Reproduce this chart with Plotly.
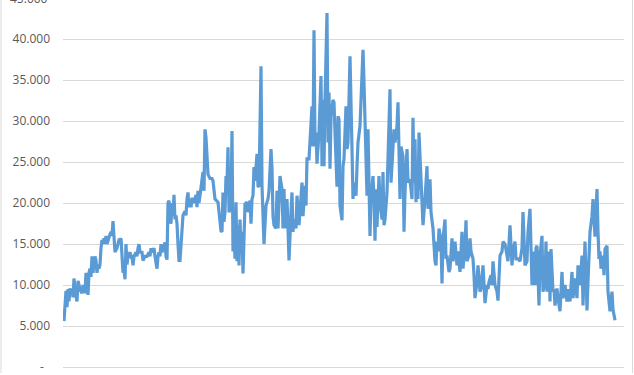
import plotly.graph_objects as go

# period index and values
periods = [0,1,2,3,4,5,6,7,8,9,10,11,12,13,14,15,16,18,19,21,22,24,25,26,27,28,29,31,32,33,34,35,36,37,38,39,40,41,42,43,44,45,46,47,48,49,50,51,52,53,55,56,57,58,59,60,61,62,63,64,66,67,68,69,70,72,73,74,75,76,78,79,81,83,85,86,87,88,90,91,92,93,94,95,96,97,98,100,101,102,103,104,105,106,107,108,109,110,111,112,113,114,115,116,117,118,119,121,122,123,124,125,126,127,128,129,130,131,132,133,134,135,136,137,138,139,140,141,142,143,144,146,148,149,151,154,155,157,158,159,160,161,162,163,164,165,167,168,169,170,171,172,173,174,175,176,177,178,179,181,183,184,186,187,188,189,190,191,193,194,195,197,198,199,200,202,204,205,207,208,209,210,212,213,214,216,218,219,220,221,223,224,225,227,228,229,230,232,233,235,237,238,239,241,242,243,245,246,248,249,250,251,252,253,255,257,258,259,260,261,263,264,265,266,267,269,270,271,273,274,275,276,278,279,280,282,283,284,286,288,289,290,292,293,294,296,297,299,300,301,303,304,306,307,309,310,311,312,313,315,316,318,319,320,321,323,324,326,327,329,330,331,333,334,335,336,337,339,340,341,343,344,346,348,349,350,351,352,353,354,355,357,358,359,361,363,364,366,367,369,371,372,373,374,375,377,378,379,381,382,383,385,386,388,389,391,393,394,396,398,399,401,402,403,405,406,407,409,410,411,413,414,416,417,419,420,421,423,424,425,427,428,429,431,433,434,436,438,439,441,443,444,446,448,449,451,452,454,456,458,459,461,463,464,466,467,468,469,471,472,473,475,476,478,479,481,482,483,485,486,487,489,490,491,493,494,496,498,499,501,503,504,506,508,509,511,513,514,516,518,519,521,523,524,526,528,529,531,533,534,535,536,537,539,540,541,543,544,546,548,549,551,552,553,554]
values = [5600,7500,9300,7300,9500,8000,9600,8800,9500,8500,10800,9400,8500,8000,10500,9800,9500,9000,10000,9000,11500,8800,11500,12000,11000,13500,11500,13500,13000,11500,12500,12000,12500,14500,15500,15000,15700,15000,16000,15000,15500,16000,16200,16500,16000,17800,16000,14000,14300,14500,15500,15500,15700,12500,11500,12000,10700,15000,12500,13500,14000,13500,13600,12400,13500,14000,13500,14500,15000,14000,14000,13000,13500,13500,14000,13500,14500,14000,14500,13500,12500,12000,13500,14000,13500,15000,14000,15000,15200,13500,13100,20000,20300,18000,17500,20000,18500,21000,18000,18500,17500,15000,13000,13000,15000,18000,18500,19000,18500,20500,21300,19500,20500,19500,20500,20500,20000,20500,21000,19500,21500,20000,21000,22500,23500,23800,21500,29000,28000,24500,23500,23000,23000,22700,20500,20100,18900,16600,16500,21300,17700,18900,23300,22500,26800,18900,19500,28800,14100,16900,13200,20100,12900,17300,12400,18000,14100,16500,11400,19900,20100,18900,20300,17500,20500,20900,24400,22700,26000,22100,22000,36700,22100,17300,15000,19700,20500,21500,26600,24200,18400,17300,16900,21500,16900,23300,21700,16900,21700,16900,20500,16900,13000,18900,21300,16500,18000,16900,20900,17300,20100,22500,18400,22100,19700,25400,25400,27400,31800,26900,41100,26900,28600,24800,28600,35500,24500,32600,24500,32600,43200,27400,33500,24200,30600,32600,32300,28600,22000,30600,30200,19700,17900,24500,25400,31800,26600,27400,37900,26600,20500,22500,20900,24500,27400,29400,33000,38700,34700,29000,20900,29000,16000,20500,23300,20500,15400,21700,17100,23300,20100,18000,23800,17300,18000,21300,26900,33900,22500,27400,29000,27400,29400,32300,26900,20500,26900,25700,16500,21300,26600,22500,22900,20500,30400,22500,27800,20100,25000,20500,28600,22500,19700,17300,20500,24500,19300,22900,18900,16900,12900,12400,15300,14100,16900,15300,10200,15700,18000,13200,13600,11600,12000,15700,12900,15300,12400,14100,11600,16500,12000,14800,17900,12900,13600,15700,14100,13200,11200,8400,10400,12400,9200,9500,12400,10000,7800,10000,9500,10400,11200,10000,12900,10000,9200,8100,13600,14100,15300,15000,13600,12900,17300,12400,14100,15300,13200,13200,12900,14500,18900,12400,12900,16500,19300,12900,10000,14100,10000,14500,14800,7500,13600,16000,9200,10400,15300,9200,14100,8000,14400,9200,9500,7500,9600,8400,6800,11600,8400,10000,8000,9500,8000,11600,8400,10800,8400,12400,10000,13600,7500,15300,6900,10400,16500,18400,20500,15900,21700,16500,13200,14100,12000,13600,11200,14400,14800,9200,6800,9200,7000,5700]

n = min(len(periods), len(values))
periods = periods[:n]
values = values[:n]

tick_vals = [0, 5000, 10000, 15000, 20000, 25000, 30000, 35000, 40000, 45000]
tick_text = ["-\u00a0\u00a0", "5.000", "10.000", "15.000", "20.000", "25.000", "30.000", "35.000", "40.000", "45.000"]

FONT = dict(family="Open Sans, Liberation Sans, sans-serif", size=12, color="#595959")
GRID = "#D9D9D9"

fig = go.Figure()
fig.add_trace(go.Scatter(
    x=periods, y=values, mode="lines",
    line=dict(color="#5B9BD5", width=3.2),
    hoverinfo="skip", showlegend=False,
))

L, R, T, B = 63, 10, 0, 6
W, H = 634, 375
pw = W - L - R
ph = H - T - B

fig.update_layout(
    width=W, height=H,
    margin=dict(l=L, r=R, t=T, b=B, pad=0),
    paper_bgcolor="white", plot_bgcolor="white",
    showlegend=False,
    xaxis=dict(range=[-1, 560], showticklabels=False, showgrid=False,
               zeroline=False, showline=False, ticks=""),
    yaxis=dict(range=[0, 44782], tickvals=tick_vals, ticktext=tick_text,
               showgrid=True, gridcolor=GRID, gridwidth=1,
               zeroline=True, zerolinecolor=GRID, zerolinewidth=1,
               showline=False, ticks="", tickfont=FONT,
               ticklabelstandoff=12, ticklabeloverflow="allow"),
    annotations=[dict(
        text="45.000", xref="paper", yref="paper",
        x=(50 - L) / pw, y=1 + 2 / ph, xanchor="right", yanchor="middle",
        showarrow=False, font=FONT)],
    shapes=[
        dict(type="line", xref="paper", yref="paper",
             x0=(1 - L) / pw, x1=(1 - L) / pw, y0=-B / ph, y1=1,
             line=dict(color=GRID, width=1)),
        dict(type="line", xref="paper", yref="paper",
             x0=(632.5 - L) / pw, x1=(632.5 - L) / pw, y0=-B / ph, y1=1,
             line=dict(color=GRID, width=1)),
    ],
)

fig.write_html("out.html")
